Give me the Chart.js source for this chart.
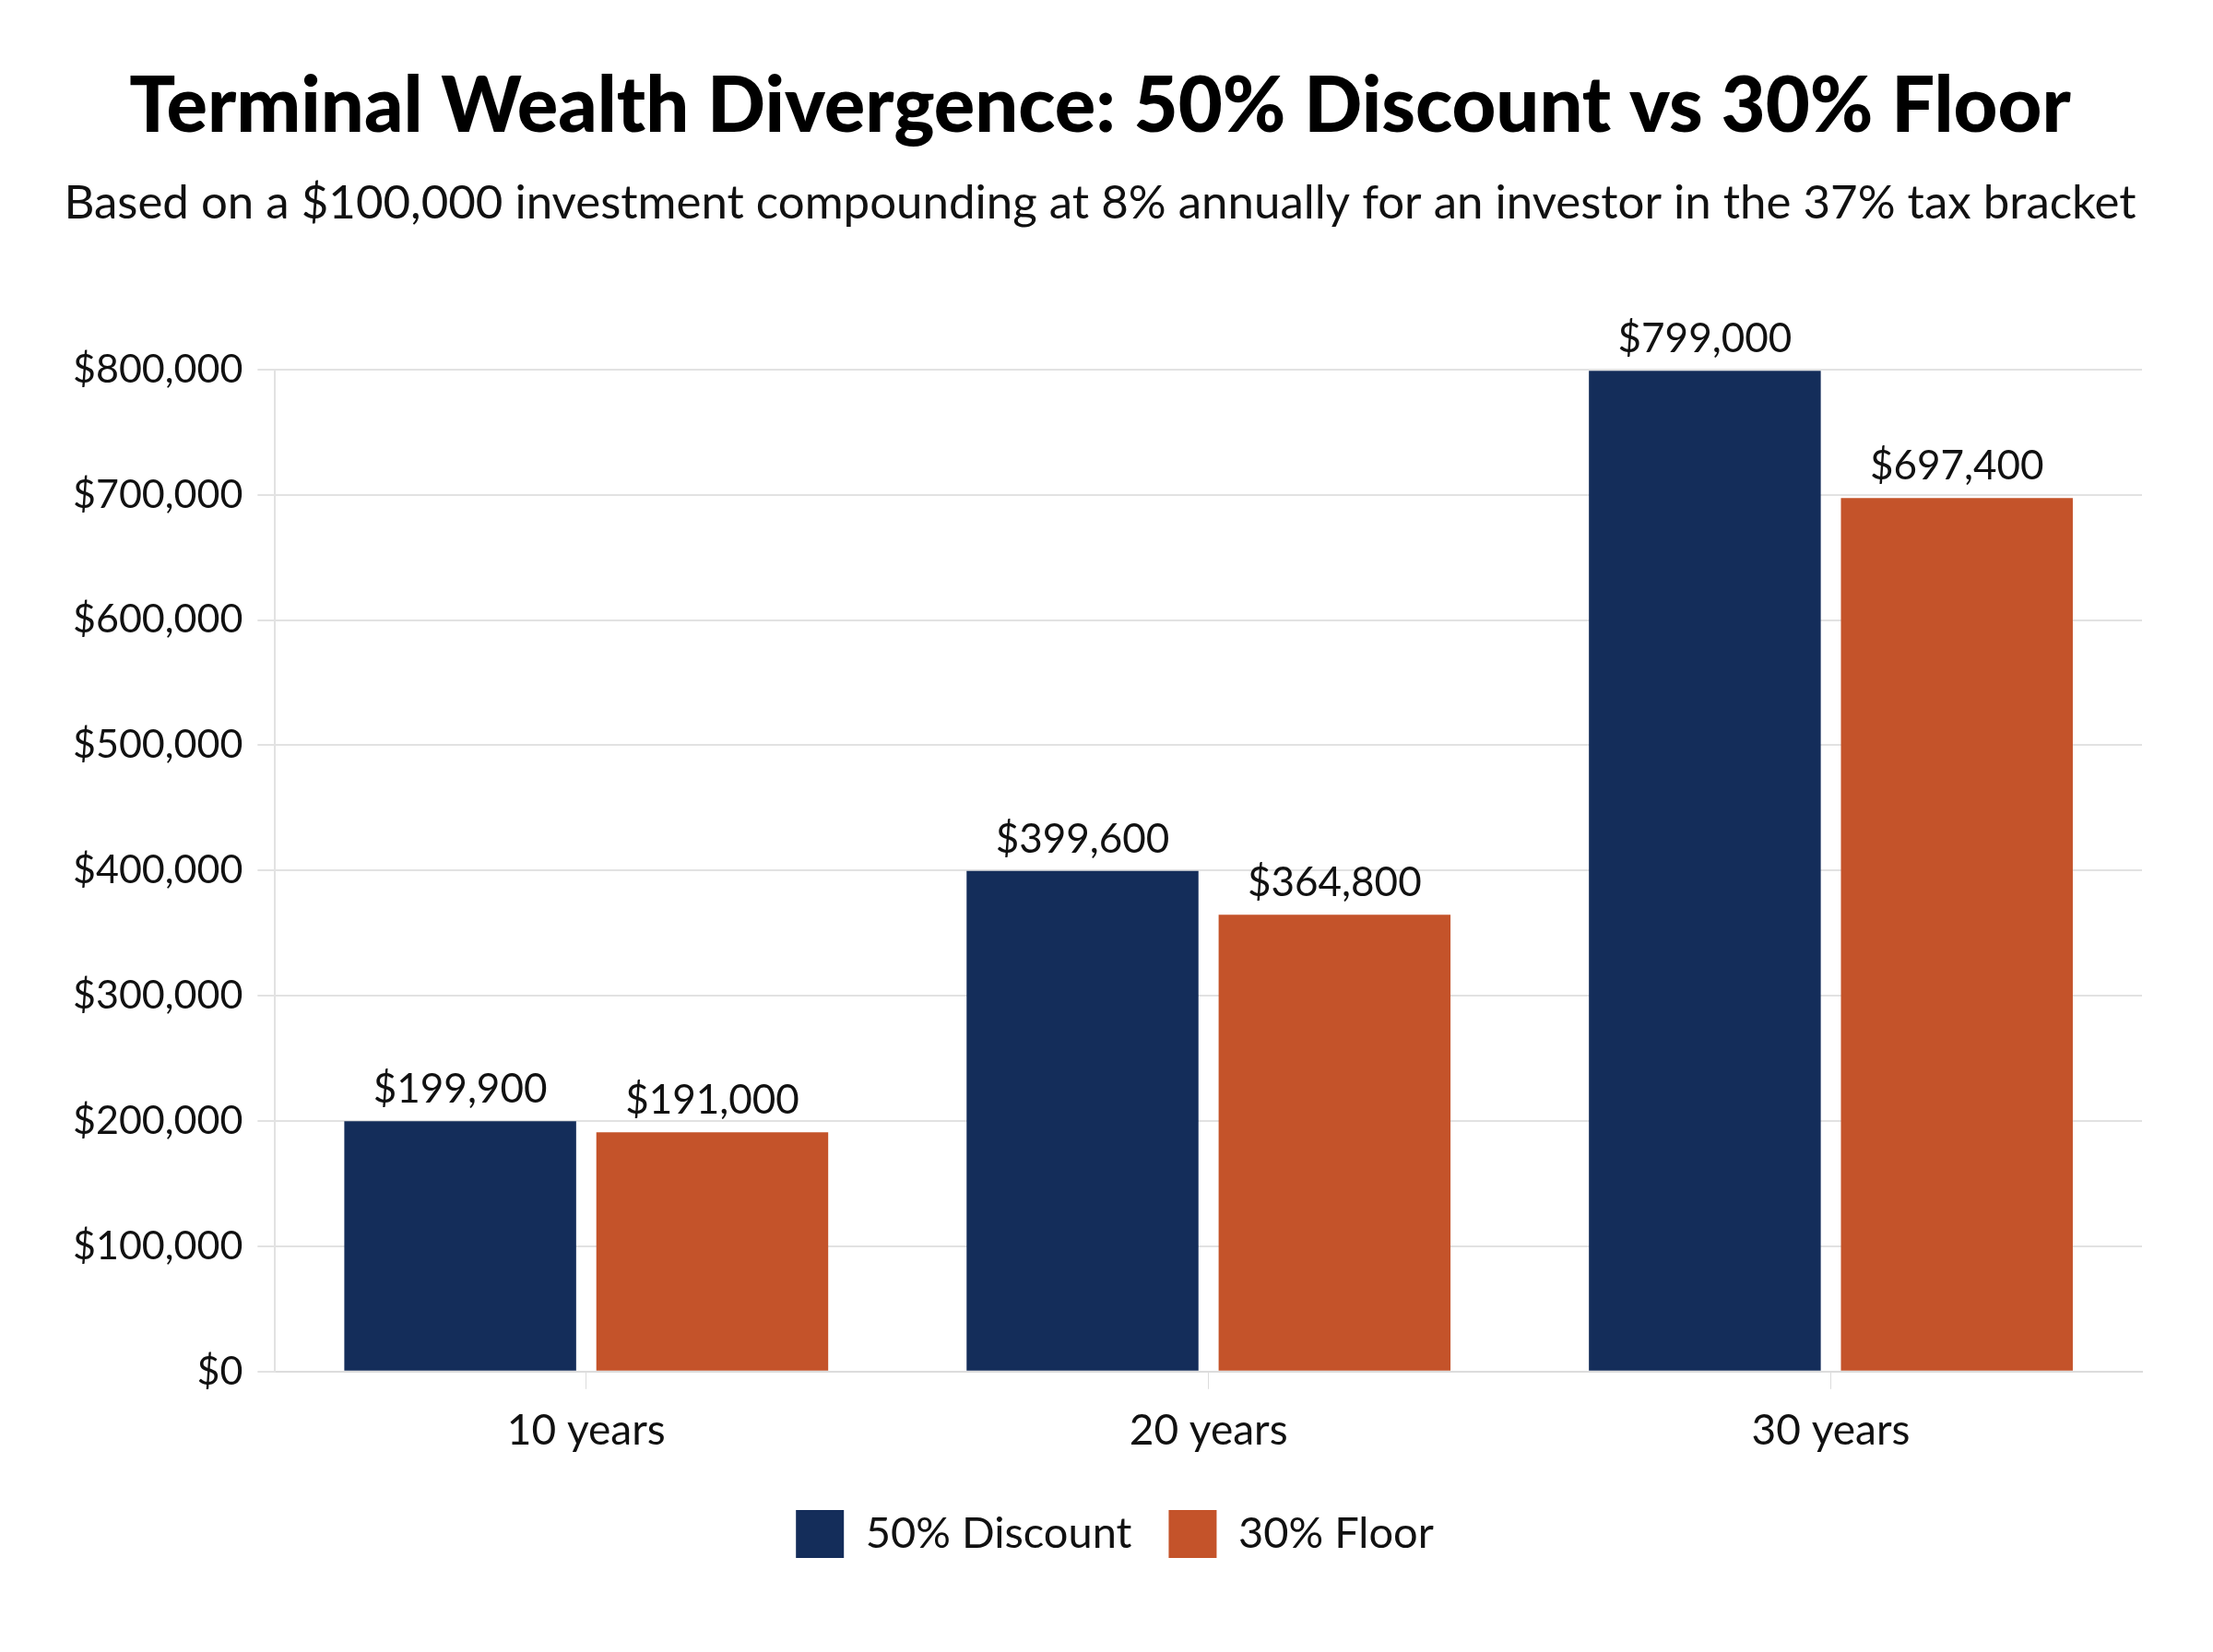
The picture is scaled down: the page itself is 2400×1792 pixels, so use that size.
<!DOCTYPE html>
<html>
<head>
<meta charset="utf-8">
<script src="https://cdn.jsdelivr.net/npm/chart.js@4.4.1/dist/chart.umd.min.js"></script>
<style>
  body { margin: 0; background: #fff; }
  #wealthChart { display: block; }
</style>
</head>
<body>
<canvas id="wealthChart" width="2400" height="1792"></canvas>
<script>
const horizons = ['10 years', '20 years', '30 years'];
const discountValues = [199900, 399600, 799000];
const floorValues = [191000, 364800, 697400];
const seriesNames = ['50% Discount', '30% Floor'];
const yTicks = [0, 100000, 200000, 300000, 400000, 500000, 600000, 700000, 800000];

const navy = '#142d5a';
const rust = '#c4532a';
const fontFamily = 'Lato, "Noto Sans", sans-serif';

const money = v => '$' + v.toLocaleString('en-US');

// value labels above each bar
const barLabels = {
    id: 'barLabels',
    afterDatasetsDraw(chart) {
        const c = chart.ctx;
        c.save();
        c.font = '44px ' + fontFamily;
        c.fillStyle = '#111';
        c.textAlign = 'center';
        c.textBaseline = 'middle';
        chart.data.datasets.forEach((ds, i) => {
            chart.getDatasetMeta(i).data.forEach((bar, j) => {
                c.fillText(money(ds.data[j]), bar.x, bar.y - 34);
            });
        });
        c.restore();
    }
};

// the legend in the original sits slightly right of centre
const nudgeLegend = {
    id: 'nudgeLegend',
    afterLayout(chart) {
        chart.legend.left += 16;
        chart.legend.right += 16;
    }
};

Chart.defaults.font.family = fontFamily;
Chart.defaults.color = '#111';

new Chart(document.getElementById('wealthChart'), {
    type: 'bar',
    data: {
        labels: horizons,
        datasets: [{
            label: seriesNames[0],
            data: discountValues,
            backgroundColor: navy,
            categoryPercentage: 0.81,
            barPercentage: 0.92
        }, {
            label: seriesNames[1],
            data: floorValues,
            backgroundColor: rust,
            categoryPercentage: 0.81,
            barPercentage: 0.92
        }]
    },
    options: {
        responsive: false,
        animation: false,
        devicePixelRatio: 1,
        layout: { padding: { left: 63, right: 77, bottom: 92 } },
        plugins: {
            title: {
                display: true,
                text: 'Terminal Wealth Divergence: 50% Discount vs 30% Floor',
                font: { size: 83, weight: '900' },
                color: '#000',
                padding: { top: 66, bottom: 10 }
            },
            subtitle: {
                display: true,
                text: 'Based on a $100,000 investment compounding at 8% annually for an investor in the 37% tax bracket',
                font: { size: 51 },
                color: '#111',
                padding: { top: 14, bottom: 150 }
            },
            legend: {
                position: 'bottom',
                labels: {
                    boxWidth: 52,
                    boxHeight: 52,
                    padding: 40,
                    font: { size: 47 },
                    color: '#111'
                }
            },
            tooltip: { enabled: false }
        },
        scales: {
            x: {
                grid: {
                    display: true,
                    drawOnChartArea: false,
                    offset: false,
                    tickLength: 19,
                    color: '#dcdcdc'
                },
                border: { color: '#dcdcdc', width: 2 },
                ticks: { font: { size: 46 }, padding: 18, color: '#111' }
            },
            y: {
                min: 0,
                max: 800000,
                afterBuildTicks: axis => { axis.ticks = yTicks.map(v => ({ value: v })); },
                grid: { color: '#e2e2e2', lineWidth: 2, tickLength: 19 },
                border: { color: '#e2e2e2', width: 2 },
                ticks: { font: { size: 43 }, padding: 16, color: '#111', callback: v => money(v) }
            }
        }
    },
    plugins: [barLabels, nudgeLegend]
});
</script>
</body>
</html>
